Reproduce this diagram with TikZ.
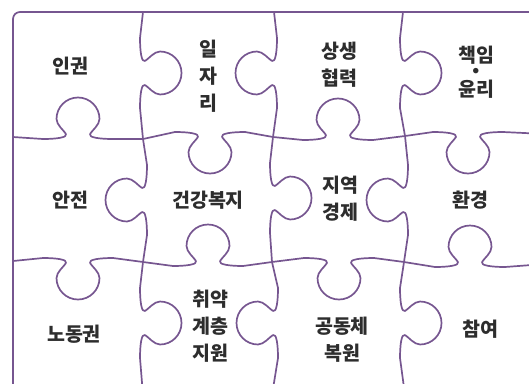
\documentclass[tikz,border=0pt]{standalone}
\usepackage{fontspec}
\setmainfont{Noto Sans CJK KR}
\definecolor{puzline}{RGB}{118,86,144}
\definecolor{txt}{RGB}{45,45,45}
\tikzset{
  puz/.style={draw=puzline, line width=1.7pt, line cap=round, line join=round},
  lbl/.style={text=txt, align=center, inner sep=0pt, font=\fontsize{19.5}{27}\selectfont\bfseries},
  tabup/.style={yscale=-1},
  tabdown/.style={},
  tabright/.style={cm={0,-1,-1,0,(0,0)}},
  tableft/.style={rotate=-90}
}
\newcommand{\ptab}[4]{%
  \begin{scope}[shift={(#2,#3)},#4]
    \draw[puz] (-35,0) coordinate (#1a)
      .. controls (-22,0) and (-10,1.5) .. (-12,5)
      .. controls (-14,8.5) and (-21.5,14) .. (-21.5,20)
      .. controls (-21.5,31.9) and (-11.9,41.5) .. (0,41.5)
      .. controls (11.9,41.5) and (21.5,31.9) .. (21.5,20)
      .. controls (21.5,14) and (14,8.5) .. (12,5)
      .. controls (10,1.5) and (22,0) .. (35,0) coordinate (#1b);
  \end{scope}}
\begin{document}
\begin{tikzpicture}[x=1pt,y=-1pt]
\useasboundingbox (0,0) rectangle (529,383);
\clip (0,0) rectangle (529,383);
% outer frame
\draw[puz, rounded corners=7pt] (545,12) -- (13,12) -- (13,395);
% junctions
\coordinate (j11) at (143,139);
\coordinate (j12) at (273,137);
\coordinate (j13) at (405,136);
\coordinate (j21) at (143,262);
\coordinate (j22) at (272,262);
\coordinate (j23) at (404,262);
% horizontal edge 1
\ptab{h11}{78}{139}{tabup}
\ptab{h12}{210}{132}{tabdown}
\ptab{h13}{338}{140}{tabup}
\ptab{h14}{468}{132}{tabdown}
\draw[puz] (13,137) -- (h11a);
\draw[puz] (h11b) -- (j11) -- (h12a);
\draw[puz] (h12b) -- (j12) -- (h13a);
\draw[puz] (h13b) -- (j13) -- (h14a);
\draw[puz] (h14b) -- (545,134);
% horizontal edge 2
\ptab{h21}{78}{258}{tabdown}
\ptab{h22}{208}{266}{tabup}
\ptab{h23}{339}{258}{tabdown}
\ptab{h24}{470}{267}{tabup}
\draw[puz] (13,261) -- (h21a);
\draw[puz] (h21b) -- (j21) -- (h22a);
\draw[puz] (h22b) -- (j22) -- (h23a);
\draw[puz] (h23b) -- (j23) -- (h24a);
\draw[puz] (h24b) -- (545,264);
% vertical edge 1
\ptab{v11}{140}{73}{tabright}
\ptab{v12}{147}{200}{tableft}
\ptab{v13}{140}{323}{tabright}
\draw[puz] (143,12) -- (v11a);
\draw[puz] (v11b) -- (j11) -- (v12a);
\draw[puz] (v12b) -- (j21) -- (v13a);
\draw[puz] (v13b) -- (143,395);
% vertical edge 2
\ptab{v21}{277}{73}{tableft}
\ptab{v22}{270}{198}{tabright}
\ptab{v23}{278}{323}{tableft}
\draw[puz] (274,12) -- (v21a);
\draw[puz] (v21b) -- (j12) -- (v22a);
\draw[puz] (v22b) -- (j22) -- (v23a);
\draw[puz] (v23b) -- (272,395);
% vertical edge 3
\ptab{v31}{400}{73}{tabright}
\ptab{v32}{408}{200}{tableft}
\ptab{v33}{400}{323}{tabright}
\draw[puz] (403,12) -- (v31a);
\draw[puz] (v31b) -- (j13) -- (v32a);
\draw[puz] (v32b) -- (j23) -- (v33a);
\draw[puz] (v33b) -- (405,395);
% labels
\node[lbl] (t1) at (70,66) {인권};
\node[lbl] (t2) at (208,76) {일\\자\\리};
\node[lbl] (t3) at (339,65) {상생\\협력};
\node[lbl, font=\fontsize{19.5}{16}\selectfont\bfseries] (t4) at (476,72) {책임\\・\\윤리};
\node[lbl] (t5) at (70,200) {안전};
\node[lbl] (t6) at (208,200) {건강복지};
\node[lbl] (t7) at (340,199) {지역\\경제};
\node[lbl] (t8) at (470,200) {환경};
\node[lbl] (t9) at (74,334) {노동권};
\node[lbl] (t10) at (210,326) {취약\\계층\\지원};
\node[lbl] (t11) at (342,340) {공동체\\복원};
\node[lbl] (t12) at (480,329) {참여};
\end{tikzpicture}
\end{document}
